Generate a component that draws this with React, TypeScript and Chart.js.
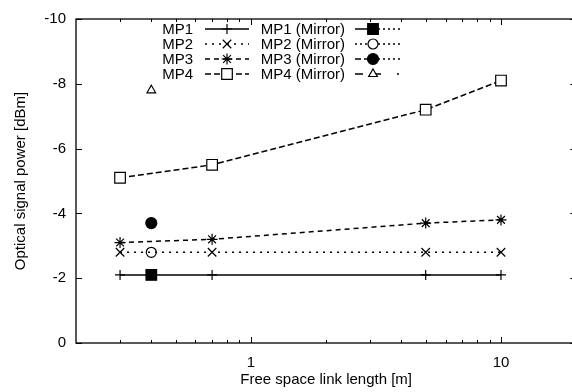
import React, { useEffect, useRef } from "react";
import { Chart, registerables } from "chart.js";

Chart.register(...registerables);

// ---- data ----
const distances = [0.3, 0.7, 5, 10];
const mp1 = [-2.1, -2.1, -2.1, -2.1];
const mp2 = [-2.8, -2.8, -2.8, -2.8];
const mp3 = [-3.1, -3.2, -3.7, -3.8];
const mp4 = [-5.1, -5.5, -7.2, -8.1];

const mirrorDistances = [0.4];
const mp1Mirror = [-2.1];
const mp2Mirror = [-2.8];
const mp3Mirror = [-3.7];
const mp4Mirror = [-7.8];

const xTickValues = [1, 10];
const xMinorTickValues = [0.3, 0.4, 0.5, 0.6, 0.7, 0.8, 0.9, 2, 3, 4, 5, 6, 7, 8, 9];
const yTickValues = [0, -2, -4, -6, -8, -10];

const FONT_FAMILY = "'Liberation Sans', Arial, Helvetica, sans-serif";
const FONT_SIZE = 15;

function toPoints(xs: number[], ys: number[]) {
  return xs.map((x, i) => ({ x, y: ys[i] }));
}

function drawMarker(
  ctx: CanvasRenderingContext2D,
  style: string,
  x: number,
  y: number,
  r: number,
  fill: string
) {
  ctx.beginPath();
  if (style === "cross" || style === "star") {
    ctx.moveTo(x, y - r);
    ctx.lineTo(x, y + r);
    ctx.moveTo(x - r, y);
    ctx.lineTo(x + r, y);
  }
  if (style === "crossRot" || style === "star") {
    const o = r * Math.SQRT1_2;
    ctx.moveTo(x - o, y - o);
    ctx.lineTo(x + o, y + o);
    ctx.moveTo(x - o, y + o);
    ctx.lineTo(x + o, y - o);
  }
  if (style === "cross" || style === "crossRot" || style === "star") {
    ctx.stroke();
    return;
  }
  if (style === "rect") {
    const s = r * Math.SQRT1_2;
    ctx.rect(x - s, y - s, 2 * s, 2 * s);
  } else if (style === "circle") {
    ctx.arc(x, y, r, 0, Math.PI * 2);
  } else if (style === "triangle") {
    let rad = 0;
    ctx.moveTo(x + Math.sin(rad) * r, y - Math.cos(rad) * r);
    rad += (Math.PI * 2) / 3;
    ctx.lineTo(x + Math.sin(rad) * r, y - Math.cos(rad) * r);
    rad += (Math.PI * 2) / 3;
    ctx.lineTo(x + Math.sin(rad) * r, y - Math.cos(rad) * r);
    ctx.closePath();
  }
  ctx.fillStyle = fill;
  ctx.fill();
  ctx.stroke();
}

const gnuplotFrame = {
  id: "gnuplotFrame",
  afterDraw(chart: any) {
    const ctx: CanvasRenderingContext2D = chart.ctx;
    const { left, right, top, bottom } = chart.chartArea;
    const xs = chart.scales.x;
    const ys = chart.scales.y;
    ctx.save();
    ctx.strokeStyle = "#000";
    ctx.lineWidth = 1.3;
    ctx.setLineDash([]);
    ctx.strokeRect(left, top, right - left, bottom - top);

    ctx.lineWidth = 1;
    const major = 6;
    const minor = 3;
    ctx.beginPath();
    const xTick = (v: number, len: number) => {
      const px = Math.round(xs.getPixelForValue(v)) + 0.5;
      ctx.moveTo(px, bottom);
      ctx.lineTo(px, bottom - len);
      ctx.moveTo(px, top);
      ctx.lineTo(px, top + len);
    };
    xTickValues.forEach((v) => xTick(v, major));
    xMinorTickValues.forEach((v) => xTick(v, minor));
    yTickValues.forEach((v) => {
      const py = Math.round(ys.getPixelForValue(v)) + 0.5;
      ctx.moveTo(left, py);
      ctx.lineTo(left + major, py);
      ctx.moveTo(right, py);
      ctx.lineTo(right - major, py);
    });
    ctx.stroke();

    // legend (gnuplot style, two columns)
    ctx.font = `${FONT_SIZE}px ${FONT_FAMILY}`;
    ctx.fillStyle = "#000";
    ctx.textAlign = "right";
    ctx.textBaseline = "middle";
    const textRight = [193, 345];
    const sampleStart = [205, 355];
    const sampleEnd = [249, 400];
    const markerX = [227, 373];
    const rowY0 = 29;
    const rowH = 15;
    chart.data.datasets.forEach((ds: any) => {
      const col = ds.legendCol;
      const y = rowY0 + ds.legendRow * rowH;
      ctx.fillStyle = "#000";
      ctx.fillText(ds.label, textRight[col], y + 1);
      ctx.lineWidth = 1.5;
      ctx.strokeStyle = "#000";
      ctx.beginPath();
      ctx.setLineDash(ds.legendDash[0]);
      ctx.moveTo(sampleStart[col], y);
      ctx.lineTo(markerX[col], y);
      ctx.stroke();
      ctx.beginPath();
      ctx.setLineDash(ds.legendDash[1]);
      ctx.moveTo(markerX[col], y);
      ctx.lineTo(sampleEnd[col], y);
      ctx.stroke();
      ctx.setLineDash([]);
      ctx.lineWidth = ds.pointBorderWidth;
      drawMarker(ctx, ds.pointStyle, markerX[col], y, ds.pointRadius, ds.pointBackgroundColor);
    });
    ctx.restore();
  },
};

export default function App() {
  const canvasRef = useRef<HTMLCanvasElement | null>(null);

  useEffect(() => {
    if (!canvasRef.current) return;
    const font = { family: FONT_FAMILY, size: FONT_SIZE };
    const base = {
      borderColor: "#000",
      pointBorderColor: "#000",
      borderWidth: 1.5,
      pointBorderWidth: 1.2,
      pointHoverRadius: 0,
    };
    const chart = new Chart(canvasRef.current, {
      type: "scatter",
      data: {
        datasets: [
          {
            ...base,
            label: "MP1",
            data: toPoints(distances, mp1),
            showLine: true,
            borderDash: [],
            pointStyle: "cross",
            pointRadius: 5,
            pointBackgroundColor: "#fff",
            legendCol: 0,
            legendRow: 0,
            legendDash: [[], []],
          },
          {
            ...base,
            label: "MP2",
            data: toPoints(distances, mp2),
            showLine: true,
            borderDash: [2, 5],
            pointStyle: "crossRot",
            pointRadius: 6,
            pointBackgroundColor: "#fff",
            legendCol: 0,
            legendRow: 1,
            legendDash: [[2, 5], [2, 5]],
          },
          {
            ...base,
            label: "MP3",
            data: toPoints(distances, mp3),
            showLine: true,
            borderDash: [5, 4],
            pointStyle: "star",
            pointRadius: 5.5,
            pointBackgroundColor: "#fff",
            legendCol: 0,
            legendRow: 2,
            legendDash: [[5, 4], [5, 4]],
          },
          {
            ...base,
            label: "MP4",
            data: toPoints(distances, mp4),
            showLine: true,
            borderDash: [6, 3],
            pointStyle: "rect",
            pointRadius: 7.5,
            pointBackgroundColor: "#fff",
            legendCol: 0,
            legendRow: 3,
            legendDash: [[6, 3], [6, 3]],
          },
          {
            ...base,
            label: "MP1 (Mirror)",
            data: toPoints(mirrorDistances, mp1Mirror),
            showLine: false,
            pointStyle: "rect",
            pointRadius: 7.5,
            pointBackgroundColor: "#000",
            legendCol: 1,
            legendRow: 0,
            legendDash: [[], [2, 3]],
          },
          {
            ...base,
            label: "MP2 (Mirror)",
            data: toPoints(mirrorDistances, mp2Mirror),
            showLine: false,
            pointStyle: "circle",
            pointRadius: 5,
            pointBackgroundColor: "#fff",
            legendCol: 1,
            legendRow: 1,
            legendDash: [[2, 3], [2, 3]],
          },
          {
            ...base,
            label: "MP3 (Mirror)",
            data: toPoints(mirrorDistances, mp3Mirror),
            showLine: false,
            pointStyle: "circle",
            pointRadius: 5.5,
            pointBackgroundColor: "#000",
            legendCol: 1,
            legendRow: 2,
            legendDash: [[6, 3], [2, 3]],
          },
          {
            ...base,
            label: "MP4 (Mirror)",
            data: toPoints(mirrorDistances, mp4Mirror),
            showLine: false,
            pointStyle: "triangle",
            pointRadius: 5,
            pointBackgroundColor: "#fff",
            legendCol: 1,
            legendRow: 3,
            legendDash: [[8, 8], [8, 16, 2, 100]],
          },
        ] as any,
      },
      options: {
        animation: false,
        responsive: true,
        maintainAspectRatio: false,
        layout: { padding: { left: 12, top: 16, right: 7, bottom: 3 } },
        plugins: {
          legend: { display: false },
          tooltip: { enabled: false },
        },
        scales: {
          x: {
            type: "logarithmic",
            min: 0.2,
            max: 20,
            grid: { display: false, drawTicks: false },
            border: { display: false },
            afterBuildTicks: (s: any) => {
              s.ticks = xTickValues.map((v) => ({ value: v }));
            },
            afterFit: (s: any) => {
              s.height = 46;
            },
            ticks: {
              font,
              color: "#000",
              padding: 11,
              autoSkip: false,
              maxRotation: 0,
              callback: (v: any) => String(v),
            },
            title: {
              display: true,
              text: "Free space link length [m]",
              font,
              color: "#000",
              padding: 0,
            },
          },
          y: {
            type: "linear",
            min: -10,
            max: 0,
            reverse: true,
            grid: { display: false, drawTicks: false },
            border: { display: false },
            afterBuildTicks: (s: any) => {
              s.ticks = yTickValues.map((v) => ({ value: v }));
            },
            afterFit: (s: any) => {
              s.width = 64;
            },
            ticks: {
              font,
              color: "#000",
              padding: 10,
              callback: (v: any) => String(v),
            },
            title: {
              display: true,
              text: "Optical signal power [dBm]",
              font,
              color: "#000",
              padding: 0,
            },
          },
        },
      } as any,
      plugins: [gnuplotFrame],
    });
    return () => chart.destroy();
  }, []);

  return (
    <div
      style={{
        position: "fixed",
        left: 0,
        top: 0,
        width: 572,
        height: 392,
        overflow: "hidden",
        background: "#fff",
      }}
    >
      <div style={{ position: "relative", width: 585, height: 392 }}>
        <canvas ref={canvasRef} />
      </div>
    </div>
  );
}
